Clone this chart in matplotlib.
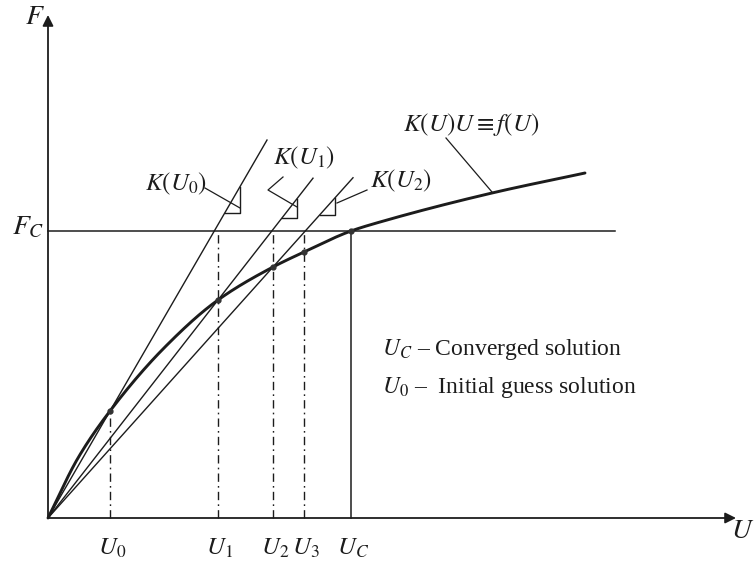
import numpy as np
import matplotlib.pyplot as plt

plt.rcParams['font.family'] = ['Liberation Serif', 'DejaVu Serif']
plt.rcParams['mathtext.fontset'] = 'stix'

# Точки кривої f(U)
curve_U = [0, 0.30, 0.62, 1.16, 1.70, 2.25, 2.56, 3.03, 3.32, 4.44, 5.37]
curve_F = [0, 0.60, 1.07, 1.70, 2.18, 2.51, 2.66, 2.87, 2.96, 3.25, 3.45]

# Ітерації
U_iter = [0.62, 1.70, 2.25, 2.56]
F_iter = [1.07, 2.18, 2.51, 2.66]
iter_labels = ['$U_0$', '$U_1$', '$U_2$', '$U_3$']
U_C, F_C = 3.03, 2.87

# Січні K(U_i): кінці ліній і положення прямокутних трикутників
secant_end_U = [2.19, 2.65, 3.05]
tri_start_U = [1.77, 2.34, 2.72]
tri_width = 0.15

ink = '#1c1c1c'


def pchip(x, y, xs):
    x = np.asarray(x, float)
    y = np.asarray(y, float)
    h = np.diff(x)
    d = np.diff(y) / h
    m = np.zeros_like(y)
    m[0], m[-1] = d[0], d[-1]
    for k in range(1, len(x) - 1):
        if d[k - 1] * d[k] > 0:
            w1 = 2 * h[k] + h[k - 1]
            w2 = h[k] + 2 * h[k - 1]
            m[k] = (w1 + w2) / (w1 / d[k - 1] + w2 / d[k])
    i = np.clip(np.searchsorted(x, xs) - 1, 0, len(h) - 1)
    t = (xs - x[i]) / h[i]
    h00 = 2 * t**3 - 3 * t**2 + 1
    h10 = t**3 - 2 * t**2 + t
    h01 = -2 * t**3 + 3 * t**2
    h11 = t**3 - t**2
    return h00 * y[i] + h10 * h[i] * m[i] + h01 * y[i + 1] + h11 * h[i] * m[i + 1]


fig = plt.figure(figsize=(7.54, 5.66), dpi=100)
ax = fig.add_axes([0, 0, 1, 1])
ax.set_xlim(-0.48, 7.06)
ax.set_ylim(-0.48, 5.18)
ax.axis('off')

# Осі зі стрілками
arrow = dict(arrowstyle='-|>', color=ink, lw=1.3, mutation_scale=16, shrinkA=0, shrinkB=0)
ax.annotate('', xy=(0, 5.03), xytext=(0, 0), arrowprops=arrow)
ax.annotate('', xy=(6.88, 0), xytext=(0, 0), arrowprops=arrow)
ax.text(-0.13, 5.0, '$F$', fontsize=20, ha='center', va='center', color=ink)
ax.text(6.95, -0.13, '$U$', fontsize=20, ha='center', va='center', color=ink)

# Рівень навантаження F_C
ax.plot([0, 5.67], [F_C, F_C], color=ink, lw=1.1)
ax.text(-0.2, 2.9, '$F_C$', fontsize=20, ha='center', va='center', color=ink)

# Крива f(U)
us = np.linspace(0, curve_U[-1], 400)
ax.plot(us, pchip(curve_U, curve_F, us), color=ink, lw=2.1, solid_capstyle='round')

# Січні та трикутники
for i, ue in enumerate(secant_end_U):
    s = F_iter[i] / U_iter[i]
    ax.plot([0, ue], [0, s * ue], color=ink, lw=1.0)
    a = tri_start_U[i]
    b = a + tri_width
    ax.plot([a, b, b], [s * a, s * a, s * b], color=ink, lw=1.0)

# Пунктирні вертикалі
dashdot = (0, (6, 3, 1.2, 3))
ax.plot([U_iter[0], U_iter[0]], [0, F_iter[0]], color=ink, lw=1.0, ls=dashdot)
for u in U_iter[1:]:
    ax.plot([u, u], [0, F_C], color=ink, lw=1.0, ls=dashdot)
ax.plot([U_C, U_C], [0, F_C], color=ink, lw=1.1)

ax.plot(U_iter + [U_C], F_iter + [F_C], 'o', color='#333333', ms=3.5)

# Підписи на осі U
for u, lab in zip(U_iter + [U_C], iter_labels + ['$U_C$']):
    ax.text(u + 0.02, -0.30, lab, fontsize=18, ha='center', va='center', color=ink)

# Підписи січних
ax.text(1.28, 3.34, '$K(U_0)$', fontsize=18, ha='center', va='center', color=ink)
ax.plot([1.57, 1.92], [3.30, 3.10], color=ink, lw=0.9)
ax.text(2.56, 3.60, '$K(U_1)$', fontsize=18, ha='center', va='center', color=ink)
ax.plot([2.35, 2.20, 2.49], [3.41, 3.28, 3.11], color=ink, lw=0.9)
ax.text(3.53, 3.37, '$K(U_2)$', fontsize=18, ha='center', va='center', color=ink)
ax.plot([3.19, 2.89], [3.28, 3.15], color=ink, lw=0.9)
ax.text(4.23, 3.94, r'$K(U)U \equiv f(U)$', fontsize=18, ha='center', va='center', color=ink)
ax.plot([3.98, 4.44], [3.80, 3.26], color=ink, lw=0.9)

# Пояснення
ax.text(3.34, 1.68, '$U_C$ – Converged solution', fontsize=17, ha='left', va='center', color=ink)
ax.text(3.34, 1.31, '$U_0$ –  Initial guess solution', fontsize=17, ha='left', va='center', color=ink)

fig.savefig('out.png', dpi=100)
